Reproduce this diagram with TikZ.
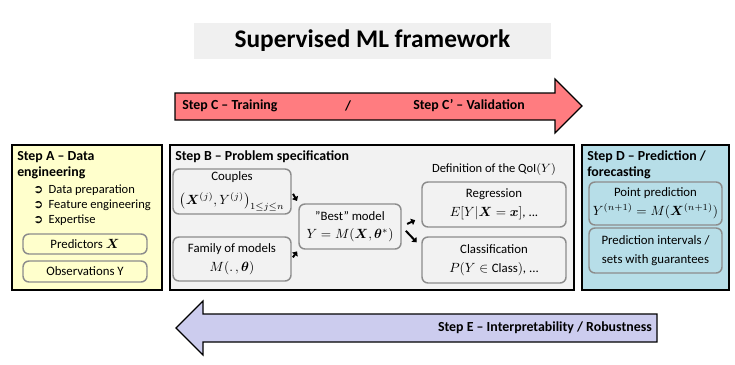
\documentclass[tikz,border=0pt]{standalone}
\usepackage{amsmath,bm}
\usepackage{fontspec}
\setmainfont{Carlito}
\newfontfamily\dejavu{DejaVu Sans}
\usetikzlibrary{arrows.meta}
\newcommand{\px}{0.75pt}
\newcommand{\bul}{{\dejavu\fontsize{9}{10}\selectfont ➲}}
\definecolor{titlegray}{HTML}{F0F0F0}
\definecolor{stepCred}{HTML}{FF7C80}
\definecolor{stepElav}{HTML}{CCCCEE}
\definecolor{stepAyel}{HTML}{FFFFCC}
\definecolor{stepBgray}{HTML}{F2F2F2}
\definecolor{stepDteal}{HTML}{B7DEE8}
\definecolor{innergray}{HTML}{8C8C8C}
\tikzset{
  stepbox/.style={draw=black,line width=1.1pt,inner sep=0pt},
  inbox/.style={draw=innergray,line width=1.1pt,rounded corners=4.5pt,align=center,inner sep=0pt,font=\fontsize{9.6}{14}\selectfont},
  sz/.style 2 args={minimum width=#1*\px,minimum height=#2*\px},
  stub/.style={line width=1.5pt,-{Triangle[length=3pt,width=5pt]},shorten <=2pt,shorten >=2pt},
  head/.style={font=\fontsize{10.4}{12}\selectfont\bfseries,anchor=west,inner sep=0pt},
  txt/.style={font=\fontsize{9.4}{11}\selectfont,inner sep=0pt}
}
\begin{document}
\begin{tikzpicture}[x=0.75pt,y=-0.75pt]
\useasboundingbox (0,0) rectangle (735,364);
% title
\node[fill=titlegray,sz={357}{36},font=\fontsize{19}{22}\selectfont\bfseries] (title) at (372.5,41) {Supervised ML framework};
% step C arrow
\draw[fill=stepCred,line width=0.9pt] (175,93)--(555,93)--(555,79)--(582,106)--(555,133)--(555,120)--(175,120)--cycle;
\node[head] (stepc) at (182,106) {Step C -- Training};
\node[head,anchor=center] (slash) at (348,106) {/};
\node[head] (stepcc) at (413,106) {Step C' -- Validation};
% step E arrow
\draw[fill=stepElav,line width=0.9pt] (657,314)--(203,314)--(203,301)--(176,328)--(203,355)--(203,342)--(657,342)--cycle;
\node[head,anchor=east] (stepe) at (652,328) {Step E -- Interpretability / Robustness};
% step A
\node[stepbox,fill=stepAyel,sz={150}{145}] (boxa) at (87,217.5) {};
\node[head] (heada1) at (17,157) {Step A -- Data};
\node[head] (heada2) at (17,173) {engineering};
\foreach \y/\w in {190/Data preparation,205/Feature engineering,220/Expertise}
  \node[txt,anchor=west] (bul\y) at (33,\y) {\bul\hspace{4pt}\w};
\node[inbox,fill=stepAyel,sz={124}{20}] (pred) at (85,244) {Predictors $\bm{X}$};
\node[inbox,fill=stepAyel,sz={124}{21}] (obs) at (85,271.5) {Observations Y};
% step B
\node[stepbox,fill=stepBgray,sz={404}{145}] (boxb) at (372,217.5) {};
\node[head] (headb) at (175,157) {Step B -- Problem specification};
\node[inbox,fill=stepBgray,sz={118}{45}] (couples) at (232,191.5) {Couples\\[4pt]$\bigl(\bm{X}^{(j)},Y^{(j)}\bigr)_{1\le j\le n}$};
\node[inbox,fill=stepBgray,sz={118}{44}] (family) at (232,259) {Family of models\\$M(.\,,\bm{\theta})$};
\node[inbox,fill=stepBgray,sz={102}{45}] (best) at (350,226.5) {"Best" model\\$Y=M(\bm{X},\bm{\theta}^{*})$};
\node[txt] (qoi) at (494,169) {Definition of the $\mathrm{QoI}(Y)$};
\node[inbox,fill=stepBgray,sz={144}{45}] (reg) at (494,204.5) {Regression\\$E[Y|\bm{X}=\bm{x}]$, ...};
\node[inbox,fill=stepBgray,sz={144}{46}] (class) at (494,260) {Classification\\$P(Y\in\mathrm{Class})$, ...};
\draw[stub] (couples.east) -- (best.north west);
\draw[stub,shorten <=1.5pt,shorten >=1.5pt] (family.east) -- (best.south west);
\draw[stub,shorten <=4.5pt,shorten >=5pt] (best.east) -- (reg.190);
\draw[stub,shorten <=4.5pt,shorten >=5pt] (best.east) -- (class.170);
% step D
\node[stepbox,fill=stepDteal,sz={147}{145}] (boxd) at (655.5,217.5) {};
\node[head] (headd1) at (587,157) {Step D -- Prediction /};
\node[head] (headd2) at (587,173) {forecasting};
\node[inbox,fill=stepDteal,sz={133}{43}] (point) at (655.5,203.5) {Point prediction\\$Y^{(n+1)}=M(\bm{X}^{(n+1)})$};
\node[inbox,fill=stepDteal,sz={133}{45}] (interv) at (655.5,250.5) {Prediction intervals /\\sets with guarantees};
\end{tikzpicture}
\end{document}
